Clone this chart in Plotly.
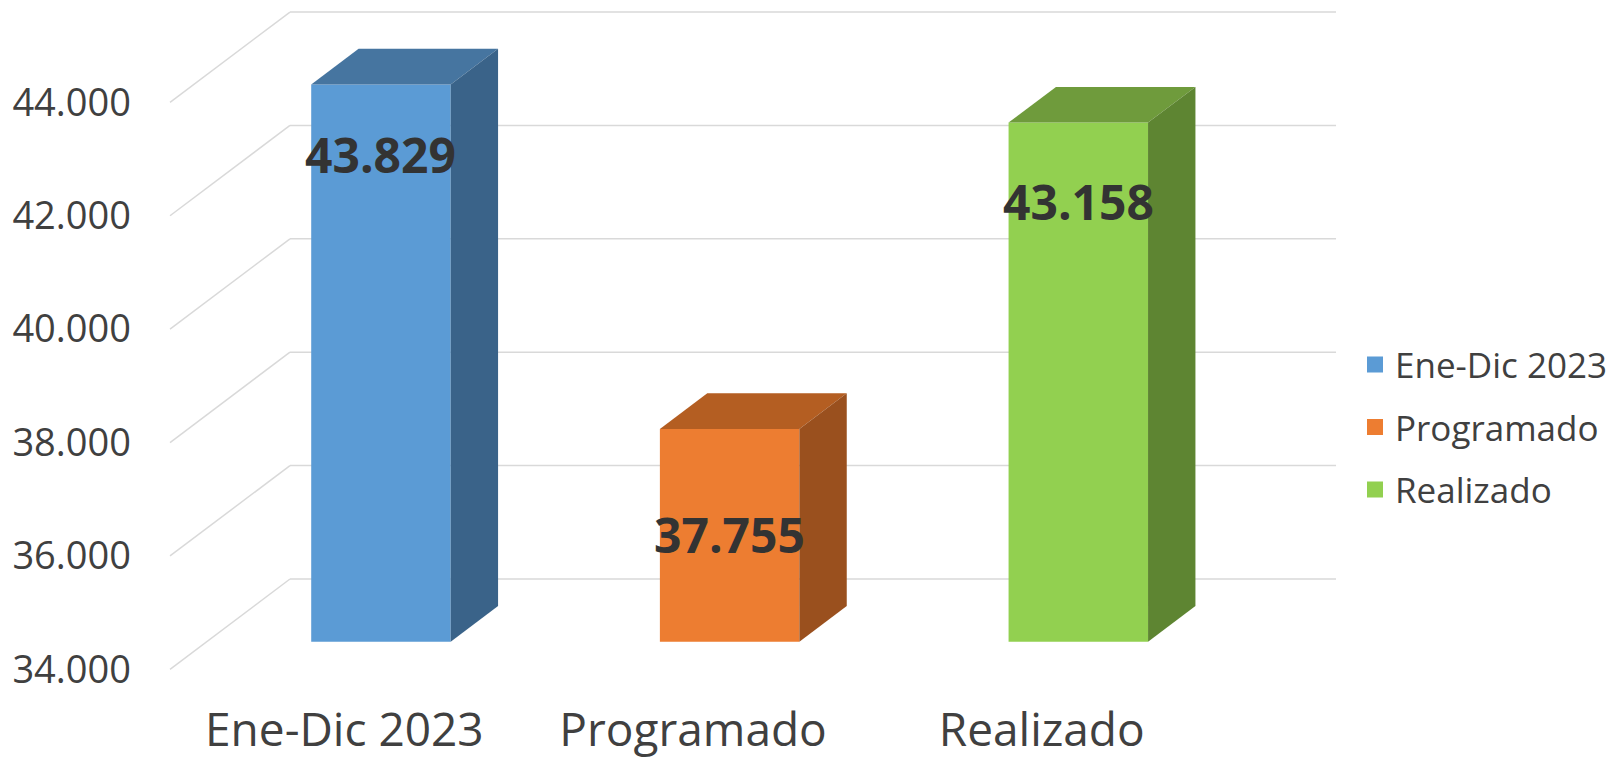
import plotly.graph_objects as go

# ---- data ----
categories = ["Ene-Dic 2023", "Programado", "Realizado"]
values = [43829, 37755, 43158]
y_ticks = [34000, 36000, 38000, 40000, 42000, 44000]

# ---- styling / geometry (not data) ----
front_colors = ["#5B9BD5", "#ED7D31", "#92D050"]
top_colors = ["#4675A0", "#B45E22", "#6F9B3C"]
side_colors = ["#3A6389", "#9A501E", "#5E8532"]
label_drop = [1230, 1860, 1390]   # distance of value label below bar top (value units)

BASE = 34000
DX = 0.3441      # depth shift in category units
DY = 1593        # depth shift in value units
Z0, Z1 = 0.305, 0.70
BAR_W = 0.4
TEXT = "#404040"
GRID = "#D9D9D9"


def proj(x, v, z):
    return x + z * DX, v + z * DY


fig = go.Figure()

# gridlines (back wall + left side wall)
shapes = []
for v in y_ticks:
    x0, y0 = proj(0, v, 1)
    x1, y1 = proj(len(categories), v, 1)
    shapes.append(dict(type="line", xref="x", yref="y", x0=x0, y0=y0, x1=x1, y1=y1,
                       line=dict(color=GRID, width=1.5), layer="below"))
    a0, b0 = proj(0, v, 0)
    shapes.append(dict(type="line", xref="x", yref="y", x0=a0, y0=b0, x1=x0, y1=y0,
                       line=dict(color=GRID, width=1.5), layer="below"))

annotations = []
for i, (cat, v) in enumerate(zip(categories, values)):
    cx = i + 0.5
    xl, xr = cx - BAR_W / 2, cx + BAR_W / 2
    fx, fb = proj(cx, BASE, Z0)
    fig.add_trace(go.Bar(
        x=[fx], y=[v - BASE], base=[fb], width=[BAR_W],
        marker=dict(color=front_colors[i], line=dict(width=0)),
        name=cat, legendgroup=str(i), showlegend=False, hoverinfo="skip",
    ))
    # top face
    pts = [proj(xl, v, Z0), proj(xr, v, Z0), proj(xr, v, Z1), proj(xl, v, Z1), proj(xl, v, Z0)]
    fig.add_trace(go.Scatter(
        x=[p[0] for p in pts], y=[p[1] for p in pts], mode="lines", fill="toself",
        fillcolor=top_colors[i], line=dict(width=0, color=top_colors[i]),
        showlegend=False, hoverinfo="skip", legendgroup=str(i),
    ))
    # right side face
    pts = [proj(xr, BASE, Z0), proj(xr, v, Z0), proj(xr, v, Z1), proj(xr, BASE, Z1), proj(xr, BASE, Z0)]
    fig.add_trace(go.Scatter(
        x=[p[0] for p in pts], y=[p[1] for p in pts], mode="lines", fill="toself",
        fillcolor=side_colors[i], line=dict(width=0, color=side_colors[i]),
        showlegend=False, hoverinfo="skip", legendgroup=str(i),
    ))
    # legend entry (square swatch)
    fig.add_trace(go.Scatter(
        x=[None], y=[None], mode="markers", name=cat, legendgroup=str(i),
        marker=dict(symbol="square", size=16, color=front_colors[i], line=dict(width=0)),
        hoverinfo="skip",
    ))
    lx, ly = proj(cx, v - label_drop[i], Z0)
    annotations.append(dict(
        x=lx, y=ly, xref="x", yref="y", showarrow=False,
        text=f"{v:,}".replace(",", "."),
        font=dict(family="Open Sans", size=48, color="#333333", weight="bold"),
    ))

# the page body adds an 8px offset, so the figure is 8px smaller than the window
fig.update_layout(
    width=1607, height=755,
    margin=dict(l=152, r=260, t=0, b=90, autoexpand=False),
    paper_bgcolor="white", plot_bgcolor="white",
    separators=",.",
    barmode="overlay",
    font=dict(family="Open Sans", color=TEXT),
    shapes=shapes,
    annotations=annotations,
    showlegend=True,
    legend=dict(
        x=1.0, xanchor="left", y=0.3695, yanchor="middle",
        font=dict(family="Open Sans", size=35, color=TEXT),
        tracegroupgap=14, traceorder="grouped", itemsizing="trace",
        bgcolor="rgba(0,0,0,0)",
    ),
    xaxis=dict(
        range=[-0.0287, 3.3985], tickmode="array",
        tickvals=[i + 0.5 for i in range(len(categories))], ticktext=categories,
        showgrid=False, zeroline=False, showline=False, ticks="",
        tickfont=dict(family="Open Sans", size=46, color=TEXT),
        ticklabelstandoff=26, fixedrange=True,
    ),
    yaxis=dict(
        range=[33934.7, 45664.8], tickmode="array", tickvals=y_ticks,
        tickformat=",.0f", showgrid=False, zeroline=False, showline=False, ticks="",
        tickfont=dict(family="Open Sans", size=38, color=TEXT),
        ticklabelstandoff=28, fixedrange=True,
    ),
)

fig.write_html("out.html")
